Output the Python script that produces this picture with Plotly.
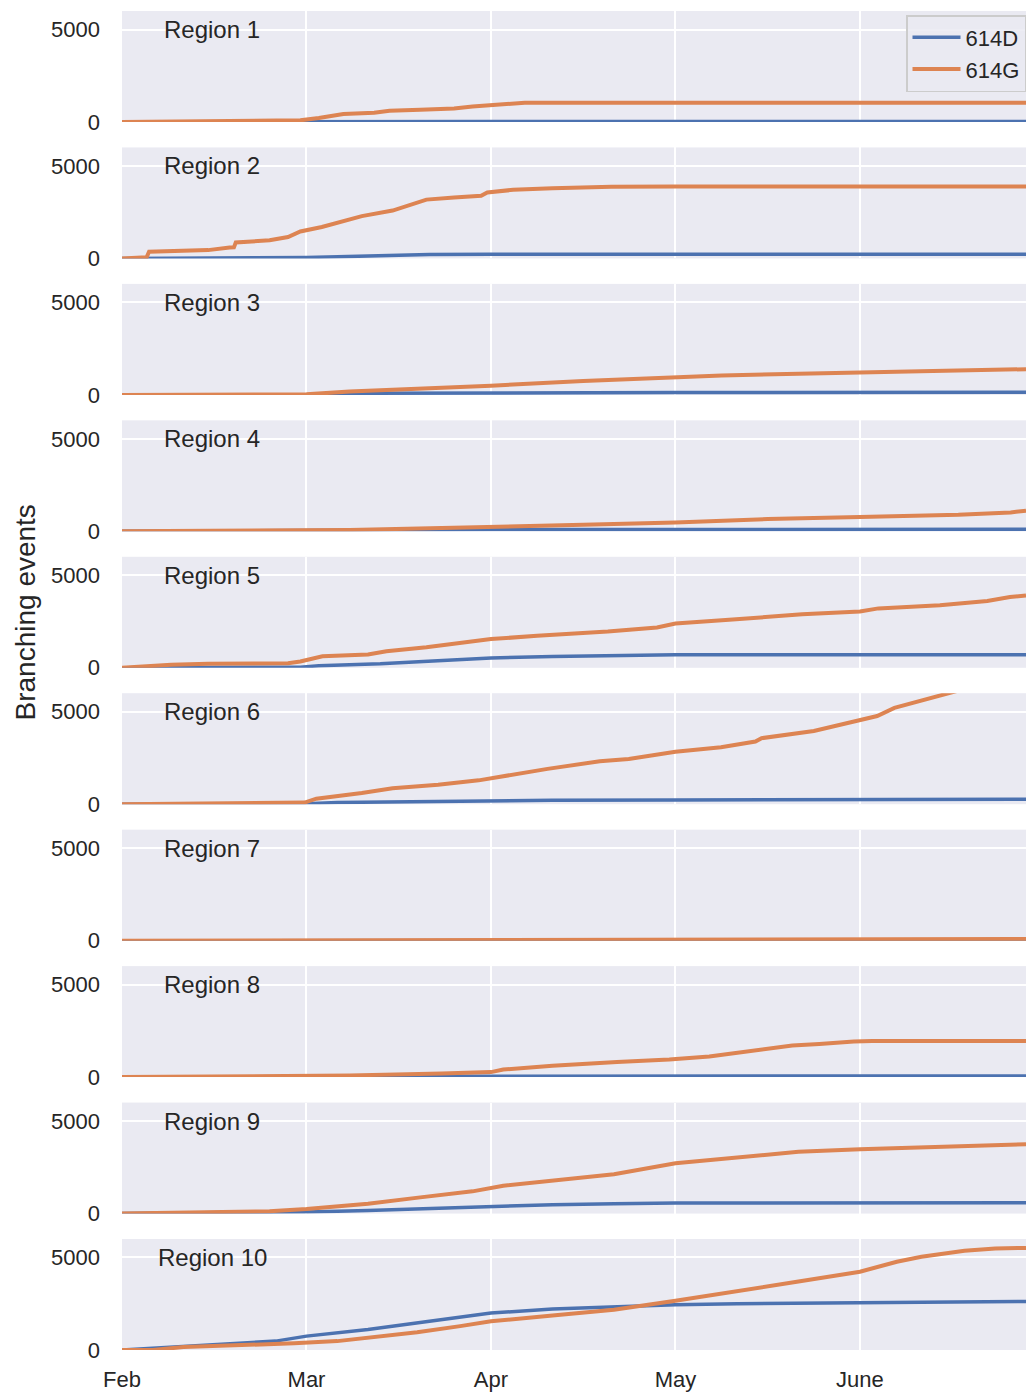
import plotly.graph_objects as go
from plotly.subplots import make_subplots

# ---------------- data (day index from 1 Feb; cumulative branching events) ----------------
tick_days = [0, 30, 60, 90, 120]
tick_labels = ["Feb", "Mar", "Apr", "May", "June"]
regions = ["Region 1", "Region 2", "Region 3", "Region 4", "Region 5",
           "Region 6", "Region 7", "Region 8", "Region 9", "Region 10"]
series_names = ["614D", "614G"]

# Region 1
r1_d_days = [0, 15, 30, 45, 60, 147]
r1_d_vals = [0, 10, 25, 30, 30, 30]
r1_g_days = [0, 15, 23, 29, 32, 36, 41, 43.5, 48.5, 54, 57, 61, 65.5, 147]
r1_g_vals = [0, 20, 50, 90, 215, 430, 500, 610, 660, 730, 840, 930, 1040, 1040]
# Region 2
r2_d_days = [0, 30, 50, 60, 147]
r2_d_vals = [0, 50, 210, 230, 230]
r2_g_days = [0, 2.5, 4.0, 4.4, 14, 17.5, 18.2, 18.5, 24, 27, 29, 32.5, 35.5, 39, 44, 46.7,
             49.5, 54, 58.4, 59.4, 63.6, 70, 79.6, 90, 147]
r2_g_vals = [0, 50, 60, 360, 450, 590, 600, 860, 980, 1160, 1460, 1700, 1960, 2290, 2590, 2890,
             3180, 3300, 3390, 3570, 3710, 3800, 3875, 3890, 3890]
# Region 3
r3_d_days = [0, 30, 40, 60, 90, 147]
r3_d_vals = [0, 10, 90, 110, 125, 140]
r3_g_days = [0, 30, 37, 46.7, 60, 75, 90, 97.5, 120, 147]
r3_g_vals = [0, 30, 180, 300, 500, 750, 950, 1050, 1210, 1390]
# Region 4
r4_d_days = [0, 40, 60, 147]
r4_d_vals = [0, 40, 100, 110]
r4_g_days = [0, 30, 37, 52, 60, 75, 90, 105, 120, 136, 144.5, 147]
r4_g_vals = [0, 30, 70, 180, 230, 360, 480, 660, 770, 890, 1020, 1120]
# Region 5
r5_d_days = [0, 14, 29, 32, 42, 49, 56, 60, 70, 80, 90, 147]
r5_d_vals = [0, 35, 35, 110, 215, 340, 480, 535, 610, 660, 700, 700]
r5_g_days = [0, 8, 14, 27, 29, 31, 32.6, 40, 43, 49.5, 56, 60, 67.5, 79, 87, 90, 99.3,
             110.6, 120, 123, 133, 140.7, 144.4, 147]
r5_g_vals = [0, 160, 215, 250, 340, 480, 625, 715, 890, 1110, 1390, 1550, 1730, 1960, 2180, 2390, 2610,
             2890, 3040, 3210, 3380, 3610, 3820, 3910]
# Region 6
r6_d_days = [0, 29, 35, 50, 70, 90, 147]
r6_d_vals = [0, 10, 90, 160, 215, 230, 270]
r6_g_days = [0, 20, 29.7, 31.6, 35.4, 39, 44, 51.4, 58, 61.7, 69.2, 77.7, 82.4, 90, 97.4, 103,
             104, 112.5, 118, 122.8, 125.6, 129.4, 134, 140, 147]
r6_g_vals = [0, 40, 90, 300, 450, 610, 860, 1050, 1290, 1500, 1910, 2320, 2450, 2840, 3080, 3390,
             3570, 3960, 4410, 4770, 5210, 5570, 5960, 6500, 7000]
# Region 7
r7_d_days = [0, 60, 147]
r7_d_vals = [0, 5, 10]
r7_g_days = [0, 30, 60, 92, 93, 147]
r7_g_vals = [0, 15, 35, 40, 80, 90]
# Region 8
r8_d_days = [0, 50, 147]
r8_d_vals = [0, 50, 60]
r8_g_days = [0, 30, 37, 52, 60, 62, 70, 80.5, 89, 95.5, 103, 109, 113.4, 119, 122, 147]
r8_g_vals = [0, 30, 90, 200, 270, 410, 620, 820, 950, 1120, 1430, 1710, 1790, 1930, 1950, 1950]
# Region 9
r9_d_days = [0, 20, 30, 40, 50, 60, 70, 80, 90, 147]
r9_d_vals = [0, 30, 90, 160, 270, 360, 480, 535, 570, 590]
r9_g_days = [0, 14, 24, 30, 40, 48.5, 57, 62, 70, 80, 90, 100, 110, 120, 130, 147]
r9_g_vals = [0, 70, 125, 250, 535, 875, 1200, 1500, 1770, 2125, 2715, 3020, 3340, 3480, 3570, 3750]
# Region 10
r10_d_days = [0, 7, 15, 25, 30, 40, 50, 60, 70, 80, 90, 100, 120, 147]
r10_d_vals = [0, 125, 300, 480, 750, 1110, 1550, 2000, 2210, 2320, 2450, 2500, 2550, 2625]
r10_g_days = [0, 5, 10, 20, 28, 35, 40, 48, 55, 60, 70, 80, 90, 100, 110, 120, 126, 130, 137, 142, 147]
r10_g_vals = [0, 0, 160, 250, 360, 480, 660, 960, 1290, 1550, 1860, 2180, 2660, 3160, 3700, 4230,
              4770, 5040, 5360, 5480, 5520]

d_days = [r1_d_days, r2_d_days, r3_d_days, r4_d_days, r5_d_days,
          r6_d_days, r7_d_days, r8_d_days, r9_d_days, r10_d_days]
d_vals = [r1_d_vals, r2_d_vals, r3_d_vals, r4_d_vals, r5_d_vals,
          r6_d_vals, r7_d_vals, r8_d_vals, r9_d_vals, r10_d_vals]
g_days = [r1_g_days, r2_g_days, r3_g_days, r4_g_days, r5_g_days,
          r6_g_days, r7_g_days, r8_g_days, r9_g_days, r10_g_days]
g_vals = [r1_g_vals, r2_g_vals, r3_g_vals, r4_g_vals, r5_g_vals,
          r6_g_vals, r7_g_vals, r8_g_vals, r9_g_vals, r10_g_vals]

# ---------------- styling ----------------
BLUE = "#4C72B0"
ORANGE = "#DD8452"
BG = "#EAEAF2"
TXT = "#262626"
FONT = "Liberation Sans, Arial, sans-serif"

n = len(regions)
fig = make_subplots(rows=n, cols=1, shared_xaxes=True, vertical_spacing=0.019)

for i in range(n):
    fig.add_trace(go.Scatter(x=d_days[i], y=d_vals[i], mode="lines", name=series_names[0],
                             line=dict(color=BLUE, width=3.5), showlegend=(i == 0)),
                  row=i + 1, col=1)
    fig.add_trace(go.Scatter(x=g_days[i], y=g_vals[i], mode="lines", name=series_names[1],
                             line=dict(color=ORANGE, width=4), showlegend=(i == 0)),
                  row=i + 1, col=1)
    yref = "y" if i == 0 else f"y{i + 1}"
    xref = "x domain" if i == 0 else f"x{i + 1} domain"
    fig.add_annotation(text=regions[i], x=0.0996, xref=xref, y=5000, yref=yref,
                       xanchor="center", yanchor="middle", showarrow=False,
                       font=dict(size=24, color=TXT, family=FONT))

fig.update_xaxes(range=[0, 147], tickvals=tick_days, ticktext=tick_labels,
                 showgrid=True, gridcolor="white", gridwidth=1.5, zeroline=False,
                 showline=False, ticks="", tickfont=dict(size=22, color=TXT, family=FONT))
fig.update_xaxes(ticklabelstandoff=14, row=n, col=1)
fig.update_yaxes(range=[0, 6000], tickvals=[0, 5000], ticktext=["0", "5000"],
                 showgrid=True, gridcolor="white", gridwidth=1.5, zeroline=False,
                 showline=False, ticks="", ticklabelstandoff=21,
                 tickfont=dict(size=22, color=TXT, family=FONT))

fig.add_annotation(text="Branching events", xref="paper", yref="paper", x=-0.107, y=0.551,
                   textangle=-90, showarrow=False, xanchor="center", yanchor="middle",
                   font=dict(size=28, color=TXT, family=FONT))

fig.update_layout(
    width=1026, height=1393,
    margin=dict(l=122, r=0, t=11, b=43),
    plot_bgcolor=BG, paper_bgcolor="white",
    font=dict(family=FONT, color=TXT),
    legend=dict(x=1.0, xanchor="right", y=0.997, yanchor="top",
                bgcolor="rgba(234,234,242,0.85)", bordercolor="#CCCCCC", borderwidth=1.5,
                font=dict(size=22, color=TXT, family=FONT), itemwidth=48,
                tracegroupgap=0),
)

fig.write_html("out.html", config={"displayModeBar": False},
               post_script="document.body.style.margin='0';document.body.style.overflow='hidden';")
